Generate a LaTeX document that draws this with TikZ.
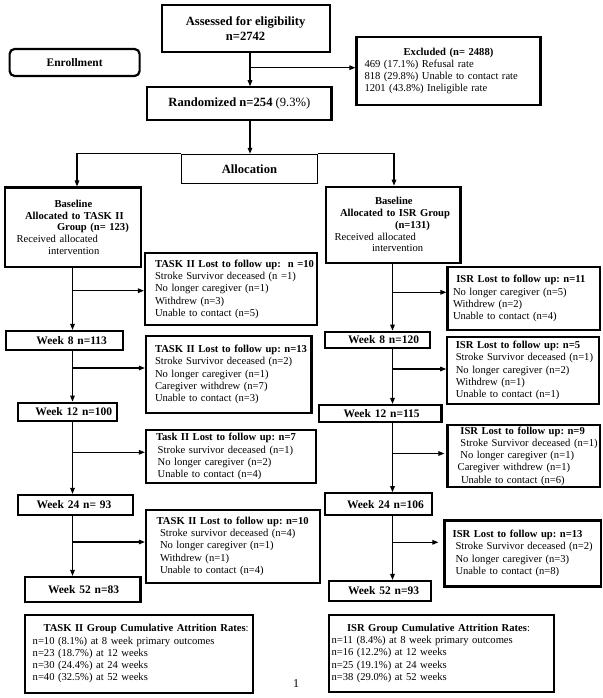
\documentclass[tikz,border=0pt]{standalone}
\usepackage{fontspec}
\setmainfont{Liberation Serif}
\usetikzlibrary{arrows.meta,calc}
\newcommand\rowat[2]{\makebox[\linewidth][l]{\hspace*{#1pt}#2}}
\newcommand\rowc[1]{\makebox[\linewidth][c]{#1}}
\begin{document}
\frenchspacing
\begin{tikzpicture}[x=1pt,y=-1pt,
  box/.style={draw=black, line width=2.2pt, inner sep=0pt, align=left, anchor=center},
  small/.style={font=\fontsize{10.6}{12.25}\selectfont\frenchspacing},
  basef/.style={font=\fontsize{10.6}{11.8}\selectfont\frenchspacing},
  bigf/.style={font=\fontsize{12.6}{14.4}\selectfont\bfseries\frenchspacing},
  wkf/.style={font=\fontsize{11.5}{13}\selectfont\bfseries\frenchspacing},
  arr/.style={line width=1.1pt, -{Triangle[length=6pt,width=4.6pt]}},
  ]
\useasboundingbox (0,0) rectangle (602,698);

% ---------- top ----------
\node[box, bigf, align=center, minimum width=168pt, minimum height=46.7pt] (assess) at (245.6,28.4) {Assessed for eligibility\\n=2742};
\node[box, wkf, rounded corners=5pt, minimum width=130pt, minimum height=27pt] (enroll) at (74.6,62.5) {Enrollment};
\node[box, small, text width=184pt, minimum height=68.6pt] (excl) at (448.5,71)
 {\rowc{\textbf{Excluded (n= 2488)}}\\
  \rowat{8}{469 (17.1\%) Refusal rate}\\
  \rowat{8}{818 (29.8\%) Unable to contact rate}\\
  \rowat{8}{1201 (43.8\%) Ineligible rate}};
\node[box, bigf, minimum width=184.2pt, minimum height=32.7pt] (rand) at (239.4,103.7) {Randomized n=254 {\mdseries (9.3\%)}};
\node[box, line width=1.1pt, bigf, minimum width=135.8pt, minimum height=29pt] (alloc) at (249.4,168.8) {Allocation};

% ---------- baseline ----------
\node[box, basef, text width=136.4pt, minimum height=79.5pt] (baseL) at (72.8,227.3)
 {\rowat{50}{\textbf{Baseline}}\\
  \rowat{20.4}{\textbf{Allocated to TASK II}}\\
  \rowat{52.4}{\textbf{Group (n= 123)}}\\
  \rowat{12}{Received allocated}\\
  \rowat{43.5}{intervention}};
\node[box, basef, text width=134.6pt, minimum height=76pt] (baseR) at (393.1,224.7)
 {\rowat{49.2}{\textbf{Baseline}}\\
  \rowat{14.2}{\textbf{Allocated to ISR Group}}\\
  \rowat{69.2}{\textbf{(n=131)}}\\
  \rowat{8.8}{Received allocated}\\
  \rowat{46.2}{intervention}};

% ---------- left column ----------
\node[box, small, text width=172.3pt, minimum height=71.7pt] (lossL1) at (231.2,289.2)
 {\rowat{10}{\textbf{TASK II Lost to follow up:\ \ n =10}}\\
  \rowat{10}{Stroke Survivor deceased (n =1)}\\
  \rowat{10}{No longer caregiver (n=1)}\\
  \rowat{10}{Withdrew (n=3)}\\
  \rowat{10}{Unable to contact (n=5)}};
\node[box, wkf, text width=117.2pt, minimum height=19pt] (wk8L) at (64.4,340.5) {\rowat{30.7}{Week 8 n=113}};
\node[box, small, text width=165.5pt, minimum height=77pt] (lossL2) at (228.75,374.5)
 {\rowat{9}{\textbf{TASK II Lost to follow up: n=13}}\\
  \rowat{9}{Stroke Survivor deceased (n=2)}\\
  \rowat{9}{No longer caregiver (n=1)}\\
  \rowat{9}{Caregiver withdrew (n=7)}\\
  \rowat{9}{Unable to contact (n=3)}};
\node[box, wkf, text width=99.3pt, minimum height=18.3pt] (wk12L) at (67.65,411.85) {\rowat{17.4}{Week 12 n=100}};
\node[box, small, text width=170pt, minimum height=53.3pt] (lossL3) at (231,456.7)
 {\rowat{10}{\textbf{Task II Lost to follow up: n=7}}\\
  \rowat{11.7}{Stroke survivor deceased (n=1)}\\
  \rowat{11.7}{No longer caregiver (n=2)}\\
  \rowat{11.7}{Unable to contact (n=4)}};
\node[box, wkf, text width=114.7pt, minimum height=20pt] (wk24L) at (75.35,505) {\rowat{18.5}{Week 24 n= 93}};
\node[box, small, text width=174pt, minimum height=72.7pt] (lossL4) at (233,546.3)
 {\rowat{10.7}{\textbf{TASK II Lost to follow up: n=10}}\\
  \rowat{14}{Stroke survivor deceased (n=4)}\\
  \rowat{14}{No longer caregiver (n=1)}\\
  \rowat{14}{Withdrew (n=1)}\\
  \rowat{14}{Unable to contact (n=4)}};
\node[box, wkf, text width=115.4pt, minimum height=25pt] (wk52L) at (82.7,589.5) {\rowat{23}{Week 52 n=83}};

% ---------- right column ----------
\node[box, small, text width=152.5pt, minimum height=62.7pt] (lossR1) at (523.75,298.65)
 {\rowat{8.8}{\textbf{ISR Lost to follow up: n=11}}\\
  \rowat{5.5}{No longer caregiver (n=5)}\\
  \rowat{5.5}{Withdrew (n=2)}\\
  \rowat{5.5}{Unable to contact (n=4)}};
\node[box, wkf, text width=105pt, minimum height=16.6pt] (wk8R) at (377.5,340) {\rowat{23}{Week 8 n=120}};
\node[box, small, text width=151.9pt, minimum height=67pt] (lossR2) at (523.25,370.5)
 {\rowat{8.5}{\textbf{ISR Lost to follow up: n=5}}\\
  \rowat{8.5}{Stroke Survivor deceased (n=1)}\\
  \rowat{8.5}{No longer caregiver (n=2)}\\
  \rowat{8.5}{Withdrew (n=1)}\\
  \rowat{8.5}{Unable to contact (n=1)}};
\node[box, wkf, text width=122.5pt, minimum height=16.7pt] (wk12R) at (380.25,413.35) {\rowat{24.5}{Week 12 n=115}};
\node[box, small, text width=152.5pt, minimum height=62pt] (lossR3) at (523.75,456)
 {\rowat{12.9}{\textbf{ISR Lost to follow up: n=9}}\\
  \rowat{12.9}{Stroke Survivor deceased (n=1)}\\
  \rowat{12.9}{No longer caregiver (n=1)}\\
  \rowat{10.2}{Caregiver withdrew (n=1)}\\
  \rowat{13.5}{Unable to contact (n=6)}};
\node[box, wkf, text width=107pt, minimum height=21.7pt] (wk24R) at (378.5,504.15) {\rowat{22}{Week 24 n=106}};
\node[box, small, text width=156.3pt, minimum height=66pt] (lossR4) at (522.65,553.5)
 {\rowat{8.2}{\textbf{ISR Lost to follow up: n=13}}\\
  \rowat{11}{Stroke Survivor deceased (n=2)}\\
  \rowat{11}{No longer caregiver (n=3)}\\
  \rowat{11}{Unable to contact (n=8)}};
\node[box, wkf, text width=102.2pt, minimum height=20pt] (wk52R) at (379.9,591) {\rowat{19.2}{Week 52 n=93}};

% ---------- bottom ----------
\node[box, small, text width=227.7pt, minimum height=77.7pt] (attrL) at (138.85,653.85)
 {\rowat{18.5}{\textbf{TASK II Group Cumulative Attrition Rates}:}\\
  \rowat{7.7}{n=10 (8.1\%) at 8 week primary outcomes}\\
  \rowat{7.7}{n=23 (18.7\%) at 12 weeks}\\
  \rowat{7.7}{n=30 (24.4\%) at 24 weeks}\\
  \rowat{7.7}{n=40 (32.5\%) at 52 weeks}};
\node[box, small, text width=225pt, minimum height=76.7pt] (attrR) at (441.3,653.35)
 {\rowat{18.2}{\textbf{ISR Group Cumulative Attrition Rates}:}\\
  \rowat{2.7}{n=11 (8.4\%) at 8 week primary outcomes}\\
  \rowat{2.7}{n=16 (12.2\%) at 12 weeks}\\
  \rowat{2.7}{n=25 (19.1\%) at 24 weeks}\\
  \rowat{2.7}{n=38 (29.0\%) at 52 weeks}};
\node[font=\fontsize{12}{14}\selectfont, inner sep=0pt] (pnum) at (296,683.3) {1};

% ---------- connectors ----------
\coordinate (sp) at (250,0);
\draw[arr] (assess.south -| sp) -- (rand.north -| sp);
\coordinate (bx) at (250,67.7);
\draw[arr] (bx) -- (bx -| excl.west);
\draw[arr] (rand.south -| sp) -- (alloc.north -| sp);
\coordinate (lt) at (77,0);
\draw[arr] (alloc.north west) -| (baseL.north -| lt);
\coordinate (rt) at (394,0);
\draw[arr] (alloc.north east) -| (baseR.north -| rt);

\coordinate (lc) at (72.5,0);
\draw[arr] (baseL.south -| lc) -- (wk8L.north -| lc);
\draw[arr] (wk8L.south -| lc) -- (wk12L.north -| lc);
\draw[arr] (wk12L.south -| lc) -- (wk24L.north -| lc);
\draw[arr] (wk24L.south -| lc) -- (wk52L.north -| lc);
\coordinate (bL1) at (72.5,290.7);
\coordinate (bL2) at (72.5,368);
\coordinate (bL3) at (72.5,452.3);
\coordinate (bL4) at (72.5,542);
\draw[arr] (bL1) -- (bL1 -| lossL1.west);
\draw[arr] (bL2) -- (bL2 -| lossL2.west);
\draw[arr] (bL3) -- (bL3 -| lossL3.west);
\draw[arr] (bL4) -- (bL4 -| lossL4.west);

\coordinate (rc) at (392.5,0);
\draw[arr] (baseR.south -| rc) -- (wk8R.north -| rc);
\draw[arr] (wk8R.south -| rc) -- (wk12R.north -| rc);
\draw[arr] (wk12R.south -| rc) -- (wk24R.north -| rc);
\draw[arr] (wk24R.south -| rc) -- (wk52R.north -| rc);
\coordinate (bR1) at (392.5,292.3);
\coordinate (bR2) at (392.5,369);
\coordinate (bR3) at (392.5,453.5);
\coordinate (bR4) at (392.5,542.3);
\draw[arr] (bR1) -- (bR1 -| lossR1.west);
\draw[arr] (bR2) -- (bR2 -| lossR2.west);
\draw[arr, shorten >=2pt] (bR3) -- (bR3 -| lossR3.west);
\draw[arr, shorten >=5pt] (bR4) -- (bR4 -| lossR4.west);
\end{tikzpicture}
\end{document}
